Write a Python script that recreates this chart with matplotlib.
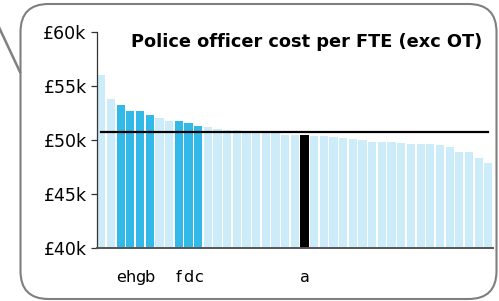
import matplotlib
matplotlib.use('Agg')
import matplotlib.pyplot as plt
from matplotlib.patches import FancyBboxPatch
from matplotlib.lines import Line2D

# cost per FTE in £k, sorted high to low
costs = [56.0, 53.8, 53.2, 52.7, 52.7, 52.3, 52.0, 51.8, 51.75, 51.55,
         51.3, 51.2, 51.0, 50.9, 50.9, 50.8, 50.8, 50.75, 50.75, 50.5,
         50.5, 50.45, 50.35, 50.35, 50.25, 50.15, 50.05, 50.0, 49.8, 49.8,
         49.8, 49.7, 49.6, 49.6, 49.6, 49.5, 49.35, 48.9, 48.9, 48.3, 47.9]
labels = [''] * len(costs)
for pos, lab in [(2, 'e'), (3, 'h'), (4, 'g'), (5, 'b'),
                 (8, 'f'), (9, 'd'), (10, 'c'), (21, 'a')]:
    labels[pos] = lab
average = 50.72
yticks = [40, 45, 50, 55, 60]

light = '#CDECF9'
dark = '#33B9E8'
colours = []
for lab in labels:
    if lab == 'a':
        colours.append('black')
    elif lab != '':
        colours.append(dark)
    else:
        colours.append(light)

fig = plt.figure(figsize=(4.99, 3.01), dpi=100)
ax = fig.add_axes([97/499, 1 - 248/301, 396/499, 216/301])

x = list(range(len(costs)))
ax.bar(x, costs, width=0.85, color=colours, bottom=0)
ax.plot([0, len(costs) - 1], [average, average], color='black', lw=1.6)

ax.set_ylim(40, 60)
ax.set_xlim(-0.45, len(costs) - 0.52)
ax.set_yticks(yticks)
ax.set_yticklabels(['£%dk' % v for v in yticks], family='DejaVu Sans', fontsize=12.5)
ax.set_xticks(x)
ax.set_xticklabels(labels, family='DejaVu Sans', fontsize=11.5)
ax.tick_params(axis='x', length=0, pad=16)
ax.tick_params(axis='y', length=4.5, width=0.9, color='#333333', pad=3)

for s in ['top', 'right']:
    ax.spines[s].set_visible(False)
ax.spines['left'].set_color('#333333')
ax.spines['left'].set_linewidth(0.9)
ax.spines['bottom'].set_color('#555555')
ax.spines['bottom'].set_linewidth(1.4)

ax.text(0.53, 0.955, 'Police officer cost per FTE (exc OT)', transform=ax.transAxes,
        ha='center', va='center', fontsize=12.8, fontweight='bold',
        family='DejaVu Sans')

# callout frame
box = FancyBboxPatch((0.205, 0.02), 4.76, 2.95,
                     boxstyle='round,pad=0,rounding_size=0.28',
                     transform=fig.dpi_scale_trans, fill=False,
                     edgecolor='#7F7F7F', lw=1.5, zorder=0)
fig.patches.append(box)
fig.lines.append(Line2D([-0.03, 0.2], [2.78, 2.29], transform=fig.dpi_scale_trans,
                        color='#808080', lw=1.8))

plt.savefig('out.png', dpi=100)
